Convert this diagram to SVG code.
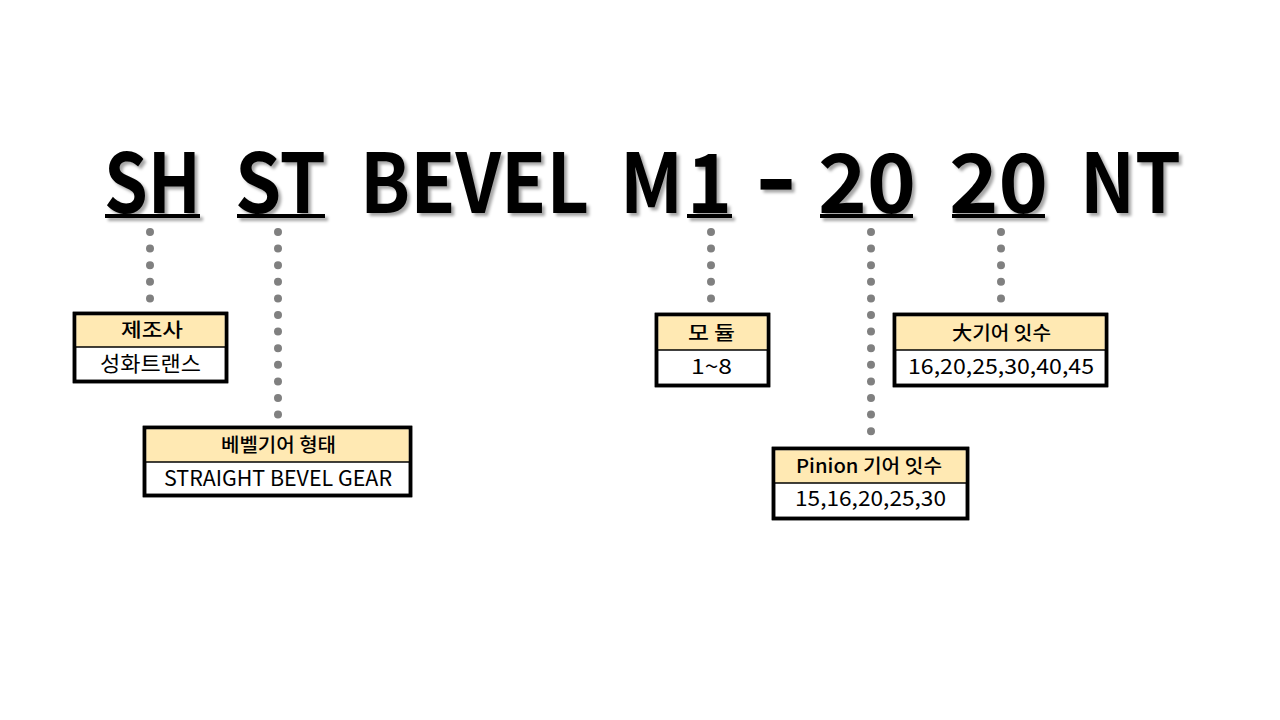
<svg xmlns="http://www.w3.org/2000/svg" width="1280" height="720" viewBox="0 0 1280 720">
<style>
.title{font-family:"Noto Sans CJK KR","Noto Sans",sans-serif;font-weight:bold;font-size:82px;fill:#000}
.hd{font-family:"Noto Sans CJK KR","Noto Sans",sans-serif;font-weight:500;font-size:19px;fill:#000;text-anchor:middle}
.bd{font-family:"Noto Sans CJK KR","Noto Sans",sans-serif;font-size:21px;fill:#000;text-anchor:middle}
.box{fill:#fff;stroke:#000;stroke-width:3.5}
.frame{fill:none;stroke:#000;stroke-width:3.5}
.hfill{fill:#FFE9B3}
.div{stroke:#000;stroke-width:1.5}
.dots{stroke:#808080;stroke-width:8;stroke-linecap:round;stroke-dasharray:0 16.6;fill:none}
</style>
<defs>
<filter id="sh" x="-10%" y="-10%" width="130%" height="140%">
<feDropShadow dx="3" dy="3" stdDeviation="1.5" flood-color="#000" flood-opacity="0.35"/>
</filter>
</defs>
<rect width="1280" height="720" fill="#fff"/>
<g id="title" filter="url(#sh)">
<text class="title" x="104" y="213" textLength="97" lengthAdjust="spacingAndGlyphs">SH</text>
<text class="title" x="235" y="213" textLength="91" lengthAdjust="spacingAndGlyphs">ST</text>
<text class="title" x="360" y="213" textLength="229" lengthAdjust="spacingAndGlyphs">BEVEL</text>
<text class="title" x="620" y="213" textLength="63" lengthAdjust="spacingAndGlyphs">M</text>
<text class="title" x="687" y="213" textLength="45" lengthAdjust="spacingAndGlyphs">1</text>
<text class="title" x="755" y="213" textLength="42" lengthAdjust="spacingAndGlyphs" style="font-size:100px">-</text>
<text class="title" x="818" y="213" textLength="98" lengthAdjust="spacingAndGlyphs">20</text>
<text class="title" x="949" y="213" textLength="99" lengthAdjust="spacingAndGlyphs">20</text>
<text class="title" x="1080" y="213" textLength="101" lengthAdjust="spacingAndGlyphs">NT</text>
<rect x="105" y="214" width="95" height="4"/>
<rect x="237" y="214" width="88" height="4"/>
<rect x="687" y="214" width="45" height="4"/>
<rect x="820" y="214" width="93" height="4"/>
<rect x="952" y="214" width="93" height="4"/>
</g>
<g id="connectors">
<line class="dots" x1="150" y1="232" x2="150" y2="299"/>
<line class="dots" x1="278" y1="232" x2="278" y2="415"/>
<line class="dots" x1="711" y1="232" x2="711" y2="299"/>
<line class="dots" x1="871" y1="232" x2="871" y2="432"/>
<line class="dots" x1="1001" y1="232" x2="1001" y2="299"/>
</g>
<g id="node-maker">
<rect class="box" x="74.5" y="313.5" width="152" height="68"/>
<rect class="hfill" x="76.25" y="315.25" width="148.5" height="31.75"/>
<line class="div" x1="74.5" y1="347" x2="226.5" y2="347"/>
<rect class="frame" x="74.5" y="313.5" width="152" height="68"/>
<text class="hd" x="152" y="337" textLength="62" lengthAdjust="spacingAndGlyphs">제조사</text>
<text class="bd" x="150.5" y="371" textLength="101" lengthAdjust="spacingAndGlyphs">성화트랜스</text>
</g>
<g id="node-type">
<rect class="box" x="144.5" y="427.5" width="266" height="68"/>
<rect class="hfill" x="146.25" y="429.25" width="262.5" height="32.75"/>
<line class="div" x1="144.5" y1="462" x2="410.5" y2="462"/>
<rect class="frame" x="144.5" y="427.5" width="266" height="68"/>
<text class="hd" x="278.5" y="452" textLength="115" lengthAdjust="spacingAndGlyphs">베벨기어 형태</text>
<text class="bd" x="278" y="486" textLength="228" lengthAdjust="spacingAndGlyphs">STRAIGHT BEVEL GEAR</text>
</g>
<g id="node-module">
<rect class="box" x="656.5" y="314.5" width="112" height="71"/>
<rect class="hfill" x="658.25" y="316.25" width="108.5" height="33.75"/>
<line class="div" x1="656.5" y1="350" x2="768.5" y2="350"/>
<rect class="frame" x="656.5" y="314.5" width="112" height="71"/>
<text class="hd" x="711.5" y="340" textLength="47" lengthAdjust="spacingAndGlyphs">모 듈</text>
<text class="bd" x="711.5" y="374" textLength="41" lengthAdjust="spacingAndGlyphs">1~8</text>
</g>
<g id="node-gear">
<rect class="box" x="894.5" y="314.5" width="212" height="71"/>
<rect class="hfill" x="896.25" y="316.25" width="208.5" height="33.75"/>
<line class="div" x1="894.5" y1="350" x2="1106.5" y2="350"/>
<rect class="frame" x="894.5" y="314.5" width="212" height="71"/>
<text class="hd" x="1001.5" y="340" textLength="99" lengthAdjust="spacingAndGlyphs">大기어 잇수</text>
<text class="bd" x="1001" y="374" textLength="186" lengthAdjust="spacingAndGlyphs">16,20,25,30,40,45</text>
</g>
<g id="node-pinion">
<rect class="box" x="773.5" y="448.5" width="194" height="70"/>
<rect class="hfill" x="775.25" y="450.25" width="190.5" height="32.75"/>
<line class="div" x1="773.5" y1="483" x2="967.5" y2="483"/>
<rect class="frame" x="773.5" y="448.5" width="194" height="70"/>
<text class="hd" x="869" y="473" textLength="146" lengthAdjust="spacingAndGlyphs">Pinion 기어 잇수</text>
<text class="bd" x="870.5" y="506" textLength="151" lengthAdjust="spacingAndGlyphs">15,16,20,25,30</text>
</g>
</svg>
